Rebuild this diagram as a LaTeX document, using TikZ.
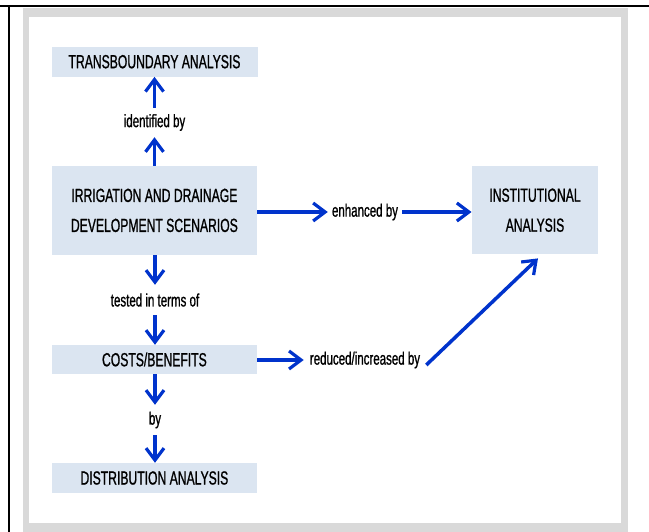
\documentclass[tikz,border=0pt]{standalone}
\usepackage{fontspec}
\setmainfont{Liberation Sans}[FakeStretch=0.64,FakeBold=0.9]
\usetikzlibrary{arrows.meta}
\definecolor{boxfill}{RGB}{219,229,241}
\definecolor{arrblue}{RGB}{0,51,204}
\definecolor{framegray}{RGB}{217,217,217}
\tikzset{
  box/.style={fill=boxfill, draw=none, align=center, inner sep=0pt, font=\fontsize{19}{30}\selectfont},
  lbl/.style={align=center, inner xsep=4pt, inner ysep=0pt, minimum height=30pt, font=\fontsize{18}{20}\selectfont},
  arr/.style={draw=arrblue, line width=3.5pt, -{Straight Barb[length=12pt,width=18pt,line width=3.2pt]}},
}
\begin{document}
\begin{tikzpicture}[x=1pt,y=-1pt]
\useasboundingbox (0,0) rectangle (649,532);
% frame
\fill[framegray] (23,8) rectangle (628,532);
\fill[white] (29.3,16.7) rectangle (620.7,522.7);
\draw[line width=2pt] (0,6) -- (649,6);
\draw[line width=2pt] (9,6) -- (9,532);
% boxes
\node[box, minimum width=206pt, minimum height=30pt] (trans) at (154.5,61.7) {TRANSBOUNDARY ANALYSIS};
\node[box, minimum width=205pt, minimum height=89pt] (irr) at (154.4,210.4) {IRRIGATION AND DRAINAGE\\DEVELOPMENT SCENARIOS};
\node[box, minimum width=205pt, minimum height=29pt] (costs) at (154.4,359.5) {COSTS/BENEFITS};
\node[box, minimum width=205pt, minimum height=30pt] (dist) at (154.4,478) {DISTRIBUTION ANALYSIS};
\node[box, minimum width=126.6pt, minimum height=88pt] (inst) at (535,210.2) {INSTITUTIONAL\\ANALYSIS};
% labels
\node[lbl, minimum height=29pt] (ident) at (154.5,122.5) {identified by};
\node[lbl] (tested) at (155,300) {tested in terms of};
\node[lbl] (by) at (155,420) {by};
\node[lbl] (enh) at (365,212) {enhanced by};
\node[lbl, inner xsep=6pt] (red) at (365,360) {reduced/increased by};
% arrows
\draw[arr] (irr.north -| ident.south) -- (ident.south);
\draw[arr] (ident.north) -- (trans.south -| ident.north);
\draw[arr] (irr.south -| tested.north) -- (tested.north);
\draw[arr] (tested.south) -- (costs.north -| tested.south);
\draw[arr] (costs.south -| by.north) -- (by.north);
\draw[arr] (by.south) -- (dist.north -| by.south);
\draw[arr] (irr.east |- enh.west) -- (enh.west);
\draw[arr] (enh.east) -- (inst.west |- enh.east);
\draw[arr] (costs.east |- red.west) -- (red.west);
\draw[arr] ([yshift=-5pt]red.east) -- ([xshift=3pt,yshift=-4pt]inst.south);
\end{tikzpicture}
\end{document}
